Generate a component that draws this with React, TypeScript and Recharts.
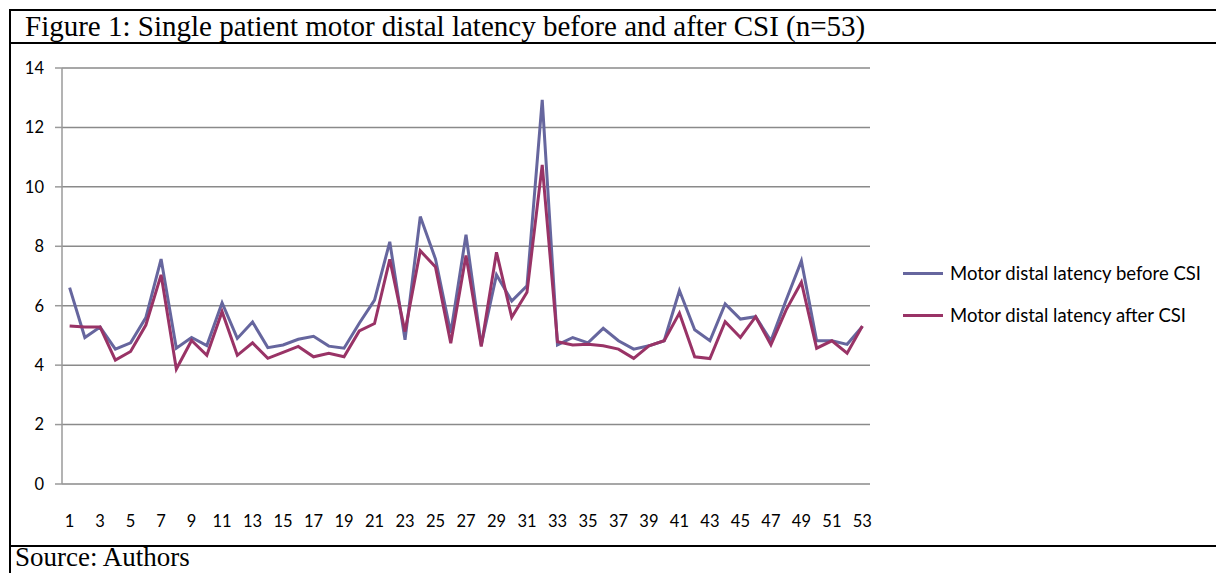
import React from 'react';
import { LineChart, Line, XAxis, YAxis, CartesianGrid, Legend } from 'recharts';

const patients = [
  1, 2, 3, 4, 5, 6, 7, 8, 9, 10, 11, 12, 13, 14, 15, 16, 17, 18, 19, 20,
  21, 22, 23, 24, 25, 26, 27, 28, 29, 30, 31, 32, 33, 34, 35, 36, 37, 38, 39, 40,
  41, 42, 43, 44, 45, 46, 47, 48, 49, 50, 51, 52, 53,
];

const beforeCSI = [
  6.61, 4.93, 5.28, 4.54, 4.75, 5.6, 7.57, 4.57, 4.93, 4.66,
  6.1, 4.9, 5.45, 4.59, 4.68, 4.87, 4.97, 4.64, 4.57, 5.41,
  6.19, 8.15, 4.85, 9.0, 7.57, 5.08, 8.39, 4.68, 7.04, 6.16,
  6.67, 12.93, 4.68, 4.93, 4.75, 5.24, 4.82, 4.54, 4.65, 4.82,
  6.51, 5.19, 4.82, 6.06, 5.55, 5.63, 4.82, 6.19, 7.51, 4.82,
  4.82, 4.7, 5.3,
];

const afterCSI = [
  5.32, 5.28, 5.28, 4.17, 4.46, 5.35, 7.04, 3.87, 4.83, 4.33,
  5.8, 4.33, 4.75, 4.23, 4.43, 4.63, 4.28, 4.4, 4.28, 5.15,
  5.4, 7.56, 5.13, 7.85, 7.3, 4.74, 7.69, 4.63, 7.8, 5.61,
  6.45, 10.74, 4.79, 4.68, 4.7, 4.65, 4.54, 4.23, 4.65, 4.82,
  5.75, 4.28, 4.22, 5.46, 4.93, 5.63, 4.68, 5.86, 6.79, 4.57,
  4.82, 4.4, 5.32,
];

const yTicks = [0, 2, 4, 6, 8, 10, 12, 14];
const xTickLabels = [
  1, 3, 5, 7, 9, 11, 13, 15, 17, 19, 21, 23, 25, 27, 29, 31, 33, 35, 37, 39,
  41, 43, 45, 47, 49, 51, 53,
];
const seriesNames = ['Motor distal latency before CSI', 'Motor distal latency after CSI'];
const seriesColors = ['#66669E', '#993366'];
const titleText = 'Figure 1: Single patient motor distal latency before and after CSI (n=53)';
const sourceText = 'Source: Authors';

const data = patients.map((p, i) => ({ patient: p, before: beforeCSI[i], after: afterCSI[i] }));
const boundaryTicks = [...patients.map((p) => p - 0.5), patients[patients.length - 1] + 0.5];
const xDomain = [boundaryTicks[0], boundaryTicks[boundaryTicks.length - 1]];

const axisFont = { fontFamily: 'Lato, sans-serif', fontSize: 16.5, fill: '#000' };

const renderLegend = (props: any) => {
  const payload = [...(props.payload || [])].sort(
    (a: any, b: any) => seriesNames.indexOf(a.value) - seriesNames.indexOf(b.value)
  );
  return (
    <div style={{ display: 'flex', flexDirection: 'column' }}>
      {payload.map((entry: any) => (
        <div key={entry.value} style={{ height: 42, display: 'flex', alignItems: 'center' }}>
          <span style={{ display: 'inline-block', width: 40, height: 3, background: entry.color, marginRight: 7 }} />
          <span style={{ fontFamily: 'Lato, sans-serif', fontSize: 18.5, color: '#000', whiteSpace: 'nowrap' }}>
            {entry.value}
          </span>
        </div>
      ))}
    </div>
  );
};

const serifText = {
  position: 'absolute' as const,
  fontFamily: '"Liberation Serif", "Times New Roman", serif',
  color: '#000',
  whiteSpace: 'nowrap' as const,
};

export default function App() {
  return (
    <div style={{ position: 'absolute', left: 0, top: 0, width: 1216, height: 573, background: '#fff' }}>
      <div style={{ position: 'absolute', left: 9, top: 9, width: 1207, height: 2, background: '#000' }} />
      <div style={{ position: 'absolute', left: 9, top: 42, width: 1207, height: 2, background: '#000' }} />
      <div style={{ position: 'absolute', left: 9, top: 545, width: 1207, height: 2, background: '#000' }} />
      <div style={{ position: 'absolute', left: 9, top: 9, width: 2, height: 564, background: '#000' }} />
      <div style={{ ...serifText, fontSize: 29, left: 25, top: 12, height: 29, lineHeight: '29px' }}>{titleText}</div>
      <div style={{ ...serifText, fontSize: 27, left: 15, top: 544, height: 27, lineHeight: '27px' }}>{sourceText}</div>
      <div style={{ position: 'absolute', left: 0, top: 0 }}>
        <LineChart width={1216} height={573} data={data} margin={{ top: 68, right: 346, bottom: 0, left: 0 }}>
          <CartesianGrid horizontal vertical={false} stroke="#8a8a8a" strokeWidth={1.5} />
          <XAxis
            xAxisId="ticks"
            type="number"
            dataKey="patient"
            domain={xDomain}
            ticks={boundaryTicks}
            interval={0}
            tick={false}
            tickSize={6}
            height={0}
            axisLine={{ stroke: '#9a9a9a', strokeWidth: 1.5 }}
            tickLine={{ stroke: '#9a9a9a', strokeWidth: 1.5 }}
            allowDataOverflow
          />
          <XAxis
            xAxisId="labels"
            type="number"
            dataKey="patient"
            domain={xDomain}
            ticks={xTickLabels}
            interval={0}
            tickLine={false}
            axisLine={false}
            tickSize={6}
            tickMargin={25}
            height={89}
            tick={axisFont}
            allowDataOverflow
          />
          <YAxis
            type="number"
            domain={[0, 14]}
            ticks={yTicks}
            interval={0}
            width={62}
            tickSize={7}
            tickMargin={11}
            tick={axisFont}
            axisLine={{ stroke: '#9a9a9a', strokeWidth: 1.5 }}
            tickLine={{ stroke: '#9a9a9a', strokeWidth: 1.5 }}
          />
          <Legend
            layout="horizontal"
            verticalAlign="middle"
            align="center"
            content={renderLegend}
            wrapperStyle={{ left: 903, top: 252, width: 310, right: 'auto', bottom: 'auto' }}
          />
          <Line
            xAxisId="ticks"
            type="linear"
            dataKey="before"
            name={seriesNames[0]}
            stroke={seriesColors[0]}
            strokeWidth={3}
            dot={false}
            activeDot={false}
            isAnimationActive={false}
          />
          <Line
            xAxisId="ticks"
            type="linear"
            dataKey="after"
            name={seriesNames[1]}
            stroke={seriesColors[1]}
            strokeWidth={3}
            dot={false}
            activeDot={false}
            isAnimationActive={false}
          />
        </LineChart>
      </div>
    </div>
  );
}
